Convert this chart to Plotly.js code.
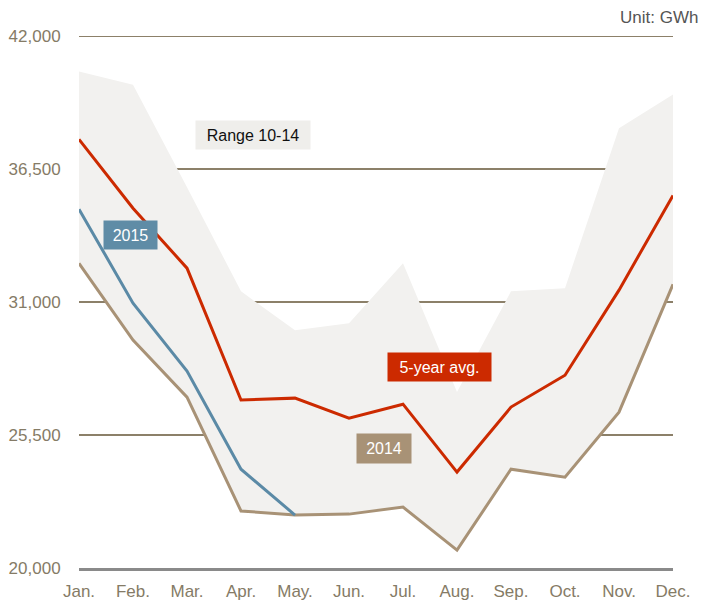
<!DOCTYPE html>
<html>
<head>
<meta charset="utf-8">
<script src="https://cdn.plot.ly/plotly-3.0.1.min.js"></script>
<style>html,body{margin:0;padding:0;background:#fff;}#chart{width:701px;height:607px;}</style>
</head>
<body>
<div id="chart"></div>
<script>
// Data (GWh)
const months = ["Jan.","Feb.","Mar.","Apr.","May.","Jun.","Jul.","Aug.","Sep.","Oct.","Nov.","Dec."];
const rangeHigh = [40550, 40000, 35760, 31450, 29840, 30130, 32610, 27280, 31450, 31580, 38200, 39600];
const avg5 = [37740, 34890, 32410, 26950, 27030, 26200, 26780, 23970, 26660, 27980, 31500, 35420];
const y2015 = [34850, 30960, 28150, 24090, 22190];
const y2014 = [32610, 29430, 27070, 22360, 22190, 22230, 22520, 20740, 24090, 23760, 26450, 31740];
const yTicks = [20000, 25500, 31000, 36500, 42000];
const yTickText = ["20,000", "25,500", "31,000", "36,500", "42,000"];

const idx = months.map((m, i) => i);

const traces = [
  { x: idx, y: y2014, mode: 'lines', line: {width: 0, color: 'rgba(0,0,0,0)'}, hoverinfo: 'skip', showlegend: false },
  { x: idx, y: rangeHigh, mode: 'lines', fill: 'tonexty', fillcolor: '#f2f1ef', line: {width: 0, color: 'rgba(0,0,0,0)'}, hoverinfo: 'skip', showlegend: false },
  { x: idx, y: y2014, mode: 'lines', line: {width: 3, color: '#a89276'}, hoverinfo: 'skip', showlegend: false },
  { x: idx.slice(0, y2015.length), y: y2015, mode: 'lines', line: {width: 3, color: '#5b8aa6'}, hoverinfo: 'skip', showlegend: false },
  { x: idx, y: avg5, mode: 'lines', line: {width: 3, color: '#cc2a00'}, hoverinfo: 'skip', showlegend: false }
];

const labFont = {family: 'Liberation Sans, Arial, sans-serif', size: 16};
const layout = {
  width: 701, height: 607,
  margin: {l: 79, r: 28, t: 34, b: 39},
  paper_bgcolor: '#fff', plot_bgcolor: '#fff',
  showlegend: false,
  xaxis: {
    range: [0, 11], tickmode: 'array', tickvals: idx, ticktext: months,
    showgrid: false, zeroline: false, showline: true, linecolor: '#8a8a8a', linewidth: 3,
    ticks: 'outside', ticklen: 6, tickcolor: 'rgba(0,0,0,0)',
    tickfont: {family: 'Liberation Sans, Arial, sans-serif', size: 17, color: '#857b66'}
  },
  yaxis: {
    range: [20000, 42100], tickmode: 'array', tickvals: yTicks, ticktext: yTickText,
    showgrid: true, gridcolor: '#8c8069', gridwidth: 1.8, zeroline: false, showline: false,
    ticks: 'outside', ticklen: 14, tickcolor: 'rgba(0,0,0,0)',
    tickfont: {family: 'Liberation Sans, Arial, sans-serif', size: 17, color: '#857b66'}
  },
  annotations: [
    {x: 3.22, y: 37905, xref: 'x', yref: 'y', text: 'Range 10-14', showarrow: false,
     bgcolor: '#efeeeb', width: 112, height: 26, font: Object.assign({color: '#111'}, labFont)},
    {x: 0.954, y: 33770, xref: 'x', yref: 'y', text: '2015', showarrow: false,
     bgcolor: '#5f8ca6', width: 51, height: 26, font: Object.assign({color: '#fff'}, labFont)},
    {x: 6.68, y: 28310, xref: 'x', yref: 'y', text: '5-year avg.', showarrow: false,
     bgcolor: '#cc2a00', width: 101, height: 26, font: Object.assign({color: '#fff'}, labFont)},
    {x: 5.65, y: 24940, xref: 'x', yref: 'y', text: '2014', showarrow: false,
     bgcolor: '#a89276', width: 52, height: 27, font: Object.assign({color: '#fff'}, labFont)},
    {x: 1.046, y: 1.031, xref: 'paper', yref: 'paper', xanchor: 'right', yanchor: 'middle',
     text: 'Unit: GWh', showarrow: false, font: {family: 'Liberation Sans, Arial, sans-serif', size: 17, color: '#555'}}
  ]
};

Plotly.newPlot('chart', traces, layout, {displayModeBar: false, staticPlot: true});
</script>
</body>
</html>
